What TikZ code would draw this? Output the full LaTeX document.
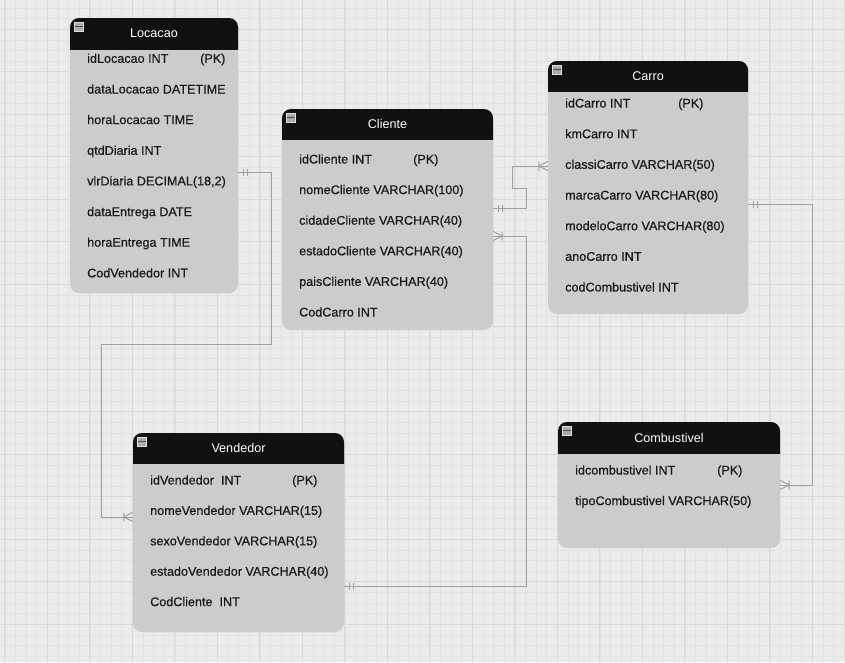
\documentclass[tikz,border=0pt]{standalone}
\usepackage{fontspec}
\setmainfont{Liberation Sans}
\newfontfamily\rowfont[FakeBold=0.6]{Liberation Sans}
\usetikzlibrary{calc}
\definecolor{bgc}{HTML}{EBEBEB}
\definecolor{minorc}{HTML}{E2E2E2}
\definecolor{majorc}{HTML}{D8D8D8}
\definecolor{bodyc}{HTML}{CCCCCC}
\definecolor{headc}{HTML}{111111}
\definecolor{linec}{HTML}{A0A0A0}
\definecolor{textc}{HTML}{1A1A1A}
\tikzset{
  minorgrid/.style={draw=minorc, line width=0.6pt},
  majorgrid/.style={draw=majorc, line width=0.8pt},
  tbody/.style={rectangle, fill=bodyc, rounded corners=9pt, inner sep=0pt, draw=none},
  headfill/.style={fill=headc},
  ttl/.style={text=white, font=\fontsize{12.6}{15}\selectfont, inner sep=0pt},
  row/.style={text=textc, font=\rowfont\fontsize{12.6}{15}\selectfont, anchor=west, inner sep=0pt, text height=9pt, text depth=0pt},
  conn/.style={draw=linec, line width=1pt},
  iconfill/.style={fill=black!33, draw=black!12, line width=0.8pt},
  iconline/.style={draw=black!70, line width=1.4pt}
}
\newcommand\ertable[7]{%
  \node[tbody, minimum width={#4-#2}, minimum height={#5-#3}] (#1) at ({(#2+#4)/2},{(#3+#5)/2}) {};
  \begin{scope}
    \clip (#2,#3) rectangle (#4,#6);
    \fill[headfill, rounded corners=9pt] (#2,#3) rectangle (#4,#5);
  \end{scope}
  \node[ttl] (#1-t) at ({(#2+#4)/2},{(#3+#6)/2}) {#7};
  \draw[iconfill] ({#2+4},{#3+4}) rectangle ++(9.5,9.5);
  \draw[iconline] ({#2+5},{#3+8.75}) -- ++(7.5,0);
}
\newcommand\mandone[2]{%
  \draw[conn] ($(#1)+(#2*5,-3.5)$) -- ++(0,7) ($(#1)+(#2*9,-3.5)$) -- ++(0,7);}
\newcommand\onemany[2]{%
  \draw[conn] ($(#1)+(0,-4.5)$) -- ($(#1)+(#2*9,0)$) -- ($(#1)+(0,4.5)$)
              ($(#1)+(#2*9,-4.5)$) -- ++(0,9);}
\begin{document}
\begin{tikzpicture}[x=1pt,y=-1pt]
\useasboundingbox (0,0) rectangle (845,662);
\fill[bgc] (0,0) rectangle (845,662);
\foreach \k in {0,...,79} \draw[minorgrid] ({4.8+10.625*\k},0) -- ++(0,662);
\foreach \k in {0,...,62} \draw[minorgrid] (0,{-2.675+10.625*\k}) -- ++(845,0);
\foreach \k in {0,...,19} \draw[majorgrid] ({4.8+42.5*\k},0) -- ++(0,662);
\foreach \k in {1,...,15} \draw[majorgrid] (0,{-13.3+42.5*\k}) -- ++(845,0);

% tables
\ertable{loc}{70}{18}{238}{293}{49}{Locacao}
\ertable{cli}{282}{109}{493}{330}{139.5}{Cliente}
\ertable{car}{548}{61}{748}{314}{91}{Carro}
\ertable{ven}{133}{433}{344}{632}{463.5}{Vendedor}
\ertable{com}{558}{422}{780}{548}{453}{Combustivel}

% Locacao rows
\node[row] (loc-r1) at (87,58.3) {idLocacao INT};
\node[row] (loc-pk) at (200,58.3) {(PK)};
\node[row] (loc-r2) at (87,89) {dataLocacao DATETIME};
\node[row] (loc-r3) at (87,119.6) {horaLocacao TIME};
\node[row] (loc-r4) at (87,150.3) {qtdDiaria INT};
\node[row] (loc-r5) at (87,180.9) {vlrDiaria DECIMAL(18,2)};
\node[row] (loc-r6) at (87,211.6) {dataEntrega DATE};
\node[row] (loc-r7) at (87,242.2) {horaEntrega TIME};
\node[row] (loc-r8) at (87,272.9) {CodVendedor INT};

% Cliente rows
\node[row] (cli-r1) at (299,159) {idCliente INT};
\node[row] (cli-pk) at (413,159) {(PK)};
\node[row] (cli-r2) at (299,189.6) {nomeCliente VARCHAR(100)};
\node[row] (cli-r3) at (299,220.2) {cidadeCliente VARCHAR(40)};
\node[row] (cli-r4) at (299,250.8) {estadoCliente VARCHAR(40)};
\node[row] (cli-r5) at (299,281.4) {paisCliente VARCHAR(40)};
\node[row] (cli-r6) at (299,312) {CodCarro INT};

% Carro rows
\node[row] (car-r1) at (565,103) {idCarro INT};
\node[row] (car-pk) at (678,103) {(PK)};
\node[row] (car-r2) at (565,133.7) {kmCarro INT};
\node[row] (car-r3) at (565,164.3) {classiCarro VARCHAR(50)};
\node[row] (car-r4) at (565,195) {marcaCarro VARCHAR(80)};
\node[row] (car-r5) at (565,225.7) {modeloCarro VARCHAR(80)};
\node[row] (car-r6) at (565,256.3) {anoCarro INT};
\node[row] (car-r7) at (565,287) {codCombustivel INT};

% Vendedor rows
\node[row] (ven-r1) at (150,480) {idVendedor\ \ INT};
\node[row] (ven-pk) at (292,480) {(PK)};
\node[row] (ven-r2) at (150,510.4) {nomeVendedor VARCHAR(15)};
\node[row] (ven-r3) at (150,540.8) {sexoVendedor VARCHAR(15)};
\node[row] (ven-r4) at (150,571.2) {estadoVendedor VARCHAR(40)};
\node[row] (ven-r5) at (150,601.6) {CodCliente\ \ INT};

% Combustivel rows
\node[row] (com-r1) at (575,470) {idcombustivel INT};
\node[row] (com-pk) at (717,470) {(PK)};
\node[row] (com-r2) at (575,500.6) {tipoCombustivel VARCHAR(50)};

% connector endpoints
\coordinate (e1a) at (loc.east |- 0,172);
\coordinate (e1b) at (ven.west |- 0,517);
\coordinate (e2a) at (cli.east |- 0,208);
\coordinate (e2b) at (car.west |- 0,166);
\coordinate (e3a) at (cli.east |- 0,236);
\coordinate (e3b) at (ven.east |- 0,586);
\coordinate (e4a) at (car.east |- 0,204);
\coordinate (e4b) at (com.east |- 0,485);

\draw[conn] (e1a) -| (271,344) -| (101,517) -- (e1b);
\draw[conn] (e2a) -| (526,188) -| (512,166) -- (e2b);
\draw[conn] (e3a) -| (526,586) -- (e3b);
\draw[conn] (e4a) -| (812,485) -- (e4b);

\mandone{e1a}{1}
\onemany{e1b}{-1}
\mandone{e2a}{1}
\onemany{e2b}{-1}
\onemany{e3a}{1}
\mandone{e3b}{1}
\mandone{e4a}{1}
\onemany{e4b}{1}
\end{tikzpicture}
\end{document}
